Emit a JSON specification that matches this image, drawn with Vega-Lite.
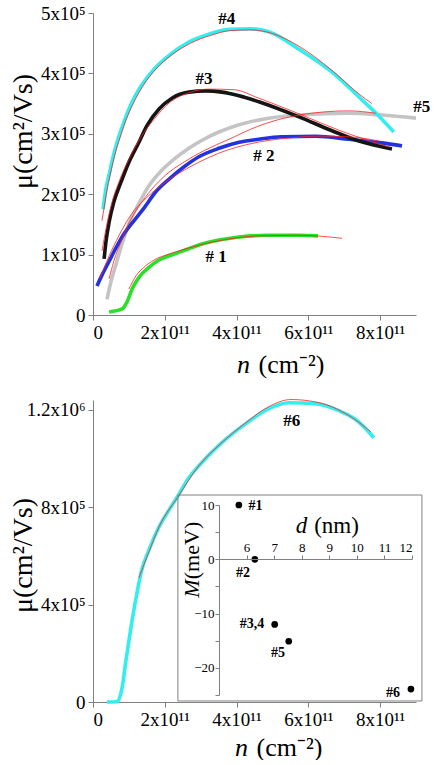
{
  "$schema": "https://vega.github.io/schema/vega-lite/v6.json",
  "background": "white",
  "padding": {"left": 8, "top": 4, "right": 0, "bottom": 0},
  "spacing": 18,
  "config": {
    "view": {"stroke": null},
    "font": "Liberation Serif",
    "style": {"guide-label": {"font": "Liberation Serif"}, "guide-title": {"font": "Liberation Serif"}},
    "axis": {"grid": false, "domainColor": "#808080", "tickColor": "#808080", "tickSize": 5, "labelFont": "Liberation Serif", "labelFontSize": 19, "labelColor": "black", "titleFont": "Liberation Serif", "titleFontWeight": "normal", "titleColor": "black", "labelPadding": 3},
    "text": {"font": "Liberation Serif"}
  },
  "datasets": {
    "curves": [
      {"s":"#5","n":0.39e11,"mu":0.26e5},{"s":"#5","n":0.50e11,"mu":0.55e5},{"s":"#5","n":0.64e11,"mu":0.84e5},{"s":"#5","n":0.81e11,"mu":1.18e5},{"s":"#5","n":1.00e11,"mu":1.51e5},{"s":"#5","n":1.28e11,"mu":1.85e5},{"s":"#5","n":1.56e11,"mu":2.14e5},{"s":"#5","n":1.89e11,"mu":2.38e5},{"s":"#5","n":2.26e11,"mu":2.58e5},{"s":"#5","n":2.67e11,"mu":2.76e5},{"s":"#5","n":3.09e11,"mu":2.91e5},{"s":"#5","n":3.51e11,"mu":3.03e5},{"s":"#5","n":4.07e11,"mu":3.15e5},{"s":"#5","n":4.62e11,"mu":3.23e5},{"s":"#5","n":5.74e11,"mu":3.31e5},{"s":"#5","n":7.13e11,"mu":3.34e5},{"s":"#5","n":8.05e11,"mu":3.31e5},{"s":"#5","n":9.0e11,"mu":3.26e5},
      {"s":"#2","n":0.11e11,"mu":0.48e5},{"s":"#2","n":0.25e11,"mu":0.66e5},{"s":"#2","n":0.45e11,"mu":0.89e5},{"s":"#2","n":0.64e11,"mu":1.11e5},{"s":"#2","n":0.86e11,"mu":1.34e5},{"s":"#2","n":1.14e11,"mu":1.56e5},{"s":"#2","n":1.42e11,"mu":1.77e5},{"s":"#2","n":1.75e11,"mu":2.04e5},{"s":"#2","n":2.12e11,"mu":2.25e5},{"s":"#2","n":2.53e11,"mu":2.45e5},{"s":"#2","n":2.95e11,"mu":2.62e5},{"s":"#2","n":3.51e11,"mu":2.76e5},{"s":"#2","n":4.07e11,"mu":2.86e5},{"s":"#2","n":4.62e11,"mu":2.91e5},{"s":"#2","n":5.26e11,"mu":2.95e5},{"s":"#2","n":6.21e11,"mu":2.96e5},{"s":"#2","n":7.13e11,"mu":2.91e5},{"s":"#2","n":8.05e11,"mu":2.85e5},{"s":"#2","n":8.61e11,"mu":2.80e5},
      {"s":"#1","n":0.45e11,"mu":0.05e5},{"s":"#1","n":0.81e11,"mu":0.10e5},{"s":"#1","n":0.95e11,"mu":0.22e5},{"s":"#1","n":1.09e11,"mu":0.43e5},{"s":"#1","n":1.23e11,"mu":0.58e5},{"s":"#1","n":1.36e11,"mu":0.68e5},{"s":"#1","n":1.56e11,"mu":0.79e5},{"s":"#1","n":1.84e11,"mu":0.91e5},{"s":"#1","n":2.26e11,"mu":1.01e5},{"s":"#1","n":2.59e11,"mu":1.08e5},{"s":"#1","n":2.95e11,"mu":1.16e5},{"s":"#1","n":3.51e11,"mu":1.24e5},{"s":"#1","n":4.07e11,"mu":1.29e5},{"s":"#1","n":4.82e11,"mu":1.32e5},{"s":"#1","n":5.74e11,"mu":1.32e5},{"s":"#1","n":6.27e11,"mu":1.31e5},
      {"s":"#3","n":0.31e11,"mu":0.93e5},{"s":"#3","n":0.36e11,"mu":1.21e5},{"s":"#3","n":0.45e11,"mu":1.54e5},{"s":"#3","n":0.58e11,"mu":1.87e5},{"s":"#3","n":0.78e11,"mu":2.20e5},{"s":"#3","n":1.00e11,"mu":2.53e5},{"s":"#3","n":1.28e11,"mu":2.86e5},{"s":"#3","n":1.50e11,"mu":3.13e5},{"s":"#3","n":1.84e11,"mu":3.41e5},{"s":"#3","n":2.20e11,"mu":3.59e5},{"s":"#3","n":2.67e11,"mu":3.69e5},{"s":"#3","n":3.15e11,"mu":3.71e5},{"s":"#3","n":3.59e11,"mu":3.69e5},{"s":"#3","n":4.07e11,"mu":3.63e5},{"s":"#3","n":4.62e11,"mu":3.53e5},{"s":"#3","n":5.74e11,"mu":3.28e5},{"s":"#3","n":6.66e11,"mu":3.05e5},{"s":"#3","n":7.41e11,"mu":2.88e5},{"s":"#3","n":8.33e11,"mu":2.75e5},
      {"s":"#4","n":0.28e11,"mu":1.75e5},{"s":"#4","n":0.36e11,"mu":2.09e5},{"s":"#4","n":0.45e11,"mu":2.33e5},{"s":"#4","n":0.56e11,"mu":2.62e5},{"s":"#4","n":0.67e11,"mu":2.86e5},{"s":"#4","n":0.84e11,"mu":3.16e5},{"s":"#4","n":1.06e11,"mu":3.49e5},{"s":"#4","n":1.34e11,"mu":3.79e5},{"s":"#4","n":1.70e11,"mu":4.07e5},{"s":"#4","n":2.12e11,"mu":4.30e5},{"s":"#4","n":2.67e11,"mu":4.52e5},{"s":"#4","n":3.23e11,"mu":4.65e5},{"s":"#4","n":3.79e11,"mu":4.73e5},{"s":"#4","n":4.35e11,"mu":4.74e5},{"s":"#4","n":4.90e11,"mu":4.69e5},{"s":"#4","n":5.74e11,"mu":4.40e5},{"s":"#4","n":6.66e11,"mu":4.02e5},{"s":"#4","n":7.41e11,"mu":3.61e5},{"s":"#4","n":7.97e11,"mu":3.29e5},{"s":"#4","n":8.38e11,"mu":3.03e5}
    ],
    "fits": [
      {"s":"#1","n":1.00e11,"mu":0.43e5},{"s":"#1","n":1.20e11,"mu":0.65e5},{"s":"#1","n":1.42e11,"mu":0.79e5},{"s":"#1","n":1.70e11,"mu":0.91e5},{"s":"#1","n":2.12e11,"mu":1.01e5},{"s":"#1","n":2.67e11,"mu":1.11e5},{"s":"#1","n":3.51e11,"mu":1.23e5},{"s":"#1","n":4.62e11,"mu":1.31e5},{"s":"#1","n":5.74e11,"mu":1.32e5},{"s":"#1","n":6.94e11,"mu":1.27e5},
      {"s":"#2","n":0.19e11,"mu":0.60e5},{"s":"#2","n":0.45e11,"mu":0.98e5},{"s":"#2","n":0.72e11,"mu":1.31e5},{"s":"#2","n":1.06e11,"mu":1.66e5},{"s":"#2","n":1.42e11,"mu":1.90e5},{"s":"#2","n":1.84e11,"mu":2.12e5},{"s":"#2","n":2.40e11,"mu":2.35e5},{"s":"#2","n":2.95e11,"mu":2.53e5},{"s":"#2","n":3.51e11,"mu":2.68e5},{"s":"#2","n":4.35e11,"mu":2.83e5},{"s":"#2","n":5.46e11,"mu":2.93e5},{"s":"#2","n":6.30e11,"mu":2.96e5},{"s":"#2","n":7.13e11,"mu":2.95e5},{"s":"#2","n":7.97e11,"mu":2.88e5},
      {"s":"#3","n":0.25e11,"mu":1.06e5},{"s":"#3","n":0.36e11,"mu":1.42e5},{"s":"#3","n":0.50e11,"mu":1.80e5},{"s":"#3","n":0.72e11,"mu":2.20e5},{"s":"#3","n":1.00e11,"mu":2.58e5},{"s":"#3","n":1.34e11,"mu":2.95e5},{"s":"#3","n":1.70e11,"mu":3.24e5},{"s":"#3","n":2.12e11,"mu":3.51e5},{"s":"#3","n":2.67e11,"mu":3.68e5},{"s":"#3","n":3.23e11,"mu":3.74e5},{"s":"#3","n":3.93e11,"mu":3.73e5},{"s":"#3","n":4.62e11,"mu":3.59e5},{"s":"#3","n":5.74e11,"mu":3.33e5},{"s":"#3","n":6.85e11,"mu":3.06e5},{"s":"#3","n":8.25e11,"mu":2.78e5},
      {"s":"#4","n":0.25e11,"mu":1.56e5},{"s":"#4","n":0.33e11,"mu":1.85e5},{"s":"#4","n":0.40e11,"mu":2.10e5},{"s":"#4","n":0.50e11,"mu":2.38e5},{"s":"#4","n":0.62e11,"mu":2.68e5},{"s":"#4","n":0.75e11,"mu":2.93e5},{"s":"#4","n":0.92e11,"mu":3.23e5},{"s":"#4","n":1.12e11,"mu":3.50e5},{"s":"#4","n":1.40e11,"mu":3.80e5},{"s":"#4","n":1.75e11,"mu":4.07e5},{"s":"#4","n":2.18e11,"mu":4.30e5},{"s":"#4","n":2.72e11,"mu":4.50e5},{"s":"#4","n":3.28e11,"mu":4.63e5},{"s":"#4","n":3.85e11,"mu":4.71e5},{"s":"#4","n":4.40e11,"mu":4.72e5},{"s":"#4","n":5.00e11,"mu":4.66e5},{"s":"#4","n":5.74e11,"mu":4.45e5},{"s":"#4","n":6.66e11,"mu":4.05e5},{"s":"#4","n":7.41e11,"mu":3.66e5},{"s":"#4","n":7.77e11,"mu":3.50e5},
      {"s":"#5","n":0.45e11,"mu":0.60e5},{"s":"#5","n":0.58e11,"mu":0.89e5},{"s":"#5","n":0.78e11,"mu":1.21e5},{"s":"#5","n":1.00e11,"mu":1.52e5},{"s":"#5","n":1.28e11,"mu":1.80e5},{"s":"#5","n":1.62e11,"mu":2.07e5},{"s":"#5","n":2.03e11,"mu":2.32e5},{"s":"#5","n":2.53e11,"mu":2.53e5},{"s":"#5","n":3.09e11,"mu":2.72e5},{"s":"#5","n":3.79e11,"mu":2.91e5},{"s":"#5","n":4.62e11,"mu":3.13e5},{"s":"#5","n":5.74e11,"mu":3.31e5},{"s":"#5","n":7.13e11,"mu":3.38e5},{"s":"#5","n":7.88e11,"mu":3.34e5}
    ],
    "labels": [
      {"t":"#4","n":3.73e11,"mu":4.90e5},
      {"t":"#3","n":3.09e11,"mu":3.91e5},
      {"t":"#5","n":9.16e11,"mu":3.44e5},
      {"t":"# 2","n":4.76e11,"mu":2.63e5},
      {"t":"# 1","n":3.43e11,"mu":0.96e5}
    ],
    "curve6": [
      {"n":0.39e11,"mu":0.0},{"n":0.67e11,"mu":0.01e5},{"n":0.81e11,"mu":0.58e5},{"n":0.92e11,"mu":1.73e5},{"n":1.06e11,"mu":3.08e5},{"n":1.20e11,"mu":4.28e5},{"n":1.36e11,"mu":5.43e5},{"n":1.56e11,"mu":6.25e5},{"n":1.84e11,"mu":7.19e5},{"n":2.12e11,"mu":7.89e5},{"n":2.37e11,"mu":8.47e5},{"n":2.67e11,"mu":9.21e5},{"n":2.95e11,"mu":9.70e5},{"n":3.59e11,"mu":10.65e5},{"n":4.26e11,"mu":11.43e5},{"n":4.90e11,"mu":12.05e5},{"n":5.46e11,"mu":12.29e5},{"n":6.21e11,"mu":12.25e5},{"n":6.85e11,"mu":11.96e5},{"n":7.33e11,"mu":11.59e5},{"n":7.83e11,"mu":10.85e5}
    ],
    "fit6": [
      {"n":1.28e11,"mu":5.10e5},{"n":1.56e11,"mu":6.17e5},{"n":1.84e11,"mu":7.19e5},{"n":2.37e11,"mu":8.43e5},{"n":2.95e11,"mu":9.70e5},{"n":3.59e11,"mu":10.65e5},{"n":4.26e11,"mu":11.47e5},{"n":4.90e11,"mu":12.13e5},{"n":5.52e11,"mu":12.42e5},{"n":6.30e11,"mu":12.29e5},{"n":7.13e11,"mu":11.76e5},{"n":7.74e11,"mu":11.10e5}
    ],
    "label6": [{"t":"#6","n":5.54e11,"mu":11.55e5}],
    "box": [{"d":3.51,"d2":12.36,"M":11.84,"M2":-26.1}],
    "inset": [
      {"t":"#1","d":5.72,"M":10},
      {"t":"#2","d":6.30,"M":0},
      {"t":"#3,4","d":7.02,"M":-12},
      {"t":"#5","d":7.53,"M":-15.1},
      {"t":"#6","d":11.96,"M":-23.9}
    ],
    "insetLabels": [
      {"t":"#1","d":6.32,"M":9.76},
      {"t":"#2","d":5.87,"M":-2.58},
      {"t":"#3,4","d":6.20,"M":-11.97},
      {"t":"#5","d":7.14,"M":-17.3},
      {"t":"#6","d":11.31,"M":-24.7}
    ]
  },
  "vconcat": [
    {
      "width": 323,
      "height": 302,
      "layer": [
        {
          "data": {"name": "curves"},
          "mark": {"type": "line", "strokeWidth": 3.6, "interpolate": "monotone"},
          "encoding": {
            "x": {"field": "n", "type": "quantitative", "scale": {"domain": [0, 9e11], "nice": false, "zero": false},
              "axis": {"orient": "bottom", "values": [0, 2e11, 4e11, 6e11, 8e11], "labelExpr": "datum.value == 0 ? '0' : (datum.value / 1e11) + 'x10¹¹'", "labelDx": 6, "labelFont": "Liberation Serif", "titleFont": "Liberation Serif", "title": "(cm⁻²)", "titleFontSize": 26, "titleX": 198, "titleY": 49, "titleBaseline": "middle"}},
            "y": {"field": "mu", "type": "quantitative", "scale": {"domain": [0, 5e5], "nice": false, "zero": false},
              "axis": {"values": [0, 1e5, 2e5, 3e5, 4e5, 5e5], "labelExpr": "datum.value == 0 ? '0' : (datum.value / 1e5) + 'x10⁵'", "labelFont": "Liberation Serif", "titleFont": "Liberation Serif", "title": "μ(cm²/Vs)", "titleFontSize": 28, "titleX": -70, "titleY": 118, "titleBaseline": "middle"}},
            "color": {"field": "s", "type": "nominal", "scale": {"domain": ["#1", "#2", "#3", "#4", "#5"], "range": ["#28e028", "#2233dd", "#151515", "#33eeee", "#c4c4c4"]}, "legend": null}
          }
        },
        {
          "data": {"name": "fits"},
          "mark": {"type": "line", "strokeWidth": 0.8, "color": "#ff2020", "interpolate": "monotone"},
          "encoding": {
            "x": {"field": "n", "type": "quantitative", "axis": null},
            "y": {"field": "mu", "type": "quantitative"},
            "detail": {"field": "s"}
          }
        },
        {
          "data": {"name": "labels"},
          "mark": {"type": "text", "fontWeight": "bold", "fontSize": 17, "font": "Liberation Serif", "color": "black"},
          "encoding": {
            "x": {"field": "n", "type": "quantitative",
              "axis": {"orient": "bottom", "labels": false, "ticks": false, "domain": false, "title": "n", "titleFont": "Liberation Serif", "titleFontStyle": "italic", "titleFontSize": 26, "titleX": 150, "titleY": 49, "titleBaseline": "middle"}},
            "y": {"field": "mu", "type": "quantitative"},
            "text": {"field": "t"}
          }
        }
      ],
      "resolve": {"axis": {"x": "independent"}}
    },
    {
      "width": 323,
      "height": 302,
      "layer": [
        {
          "layer": [
            {
              "data": {"name": "curve6"},
              "mark": {"type": "line", "strokeWidth": 3.6, "color": "#33eeee", "interpolate": "monotone"},
              "encoding": {
                "x": {"field": "n", "type": "quantitative", "scale": {"domain": [0, 9e11], "nice": false, "zero": false},
                  "axis": {"orient": "bottom", "values": [0, 2e11, 4e11, 6e11, 8e11], "labelExpr": "datum.value == 0 ? '0' : (datum.value / 1e11) + 'x10¹¹'", "labelDx": 6, "labelFont": "Liberation Serif", "titleFont": "Liberation Serif", "title": "(cm⁻²)", "titleFontSize": 26, "titleX": 196, "titleY": 45, "titleBaseline": "middle"}},
                "y": {"field": "mu", "type": "quantitative", "scale": {"domain": [0, 1.24e6], "nice": false, "zero": false},
                  "axis": {"orient": "left", "values": [0, 4e5, 8e5, 1.2e6], "labelExpr": "datum.value == 0 ? '0' : datum.value < 1e6 ? (datum.value / 1e5) + 'x10⁵' : (datum.value / 1e6) + 'x10⁶'", "labelFont": "Liberation Serif", "titleFont": "Liberation Serif", "title": "μ(cm²/Vs)", "titleFontSize": 28, "titleX": -70, "titleY": 155, "titleBaseline": "middle"}}
              }
            },
            {
              "data": {"name": "fit6"},
              "mark": {"type": "line", "strokeWidth": 0.8, "color": "#ff2020", "interpolate": "monotone"},
              "encoding": {
                "x": {"field": "n", "type": "quantitative", "axis": null},
                "y": {"field": "mu", "type": "quantitative"}
              }
            },
            {
              "data": {"name": "label6"},
              "mark": {"type": "text", "fontWeight": "bold", "fontSize": 17, "font": "Liberation Serif", "color": "black"},
              "encoding": {
                "x": {"field": "n", "type": "quantitative",
                  "axis": {"orient": "bottom", "labels": false, "ticks": false, "domain": false, "title": "n", "titleFont": "Liberation Serif", "titleFontStyle": "italic", "titleFontSize": 26, "titleX": 148, "titleY": 45, "titleBaseline": "middle"}},
                "y": {"field": "mu", "type": "quantitative"},
                "text": {"field": "t"}
              }
            }
          ],
          "resolve": {"axis": {"x": "independent"}}
        },
        {
          "layer": [
            {
              "data": {"name": "box"},
              "mark": {"type": "rect", "filled": false, "stroke": "#808080", "strokeWidth": 1},
              "encoding": {
                "x": {"field": "d", "type": "quantitative", "scale": {"domain": [5, 12], "range": [126, 319], "nice": false, "zero": false},
                  "axis": {"orient": "top", "offset": -159, "values": [6, 7, 8, 9, 10, 11, 12], "labelFont": "Liberation Serif", "titleFont": "Liberation Serif", "title": "(nm)", "titleFontSize": 23, "titleX": 243, "titleY": -34, "titleBaseline": "middle", "labelFontSize": 13, "tickSize": 4, "labelPadding": 1, "zindex": 1}},
                "x2": {"field": "d2"},
                "y": {"field": "M", "type": "quantitative", "scale": {"domain": [-25, 10], "range": [295, 105], "nice": false, "zero": false},
                  "axis": {"orient": "left", "offset": -126, "values": [-25, -20, -15, -10, -5, 0, 5, 10], "labelExpr": "datum.value % 10 == 0 ? datum.label : ''", "labelFont": "Liberation Serif", "titleFont": "Liberation Serif", "title": "(meV)", "titleFontSize": 22, "titleX": -28, "titleY": 150, "titleBaseline": "middle", "labelFontSize": 13, "tickSize": 4, "labelPadding": 1, "zindex": 1}},
                "y2": {"field": "M2"}
              }
            },
            {
              "data": {"name": "inset"},
              "mark": {"type": "circle", "size": 45, "color": "black", "opacity": 1},
              "encoding": {
                "x": {"field": "d", "type": "quantitative",
                  "axis": {"orient": "top", "offset": -159, "labels": false, "ticks": false, "domain": false, "title": "d", "titleFont": "Liberation Serif", "titleFontStyle": "italic", "titleFontSize": 23, "titleX": 208, "titleY": -34, "titleBaseline": "middle"}},
                "y": {"field": "M", "type": "quantitative",
                  "axis": {"orient": "left", "offset": -126, "labels": false, "ticks": false, "domain": false, "title": "M", "titleFont": "Liberation Serif", "titleFontStyle": "italic", "titleFontSize": 22, "titleX": -28, "titleY": 188, "titleBaseline": "middle"}}
              }
            },
            {
              "data": {"name": "insetLabels"},
              "mark": {"type": "text", "fontWeight": "bold", "fontSize": 14, "font": "Liberation Serif", "color": "black"},
              "encoding": {
                "x": {"field": "d", "type": "quantitative", "axis": null},
                "y": {"field": "M", "type": "quantitative", "axis": null},
                "text": {"field": "t"}
              }
            }
          ],
          "resolve": {"axis": {"x": "independent", "y": "independent"}}
        }
      ],
      "resolve": {"scale": {"x": "independent", "y": "independent"}}
    }
  ]
}
